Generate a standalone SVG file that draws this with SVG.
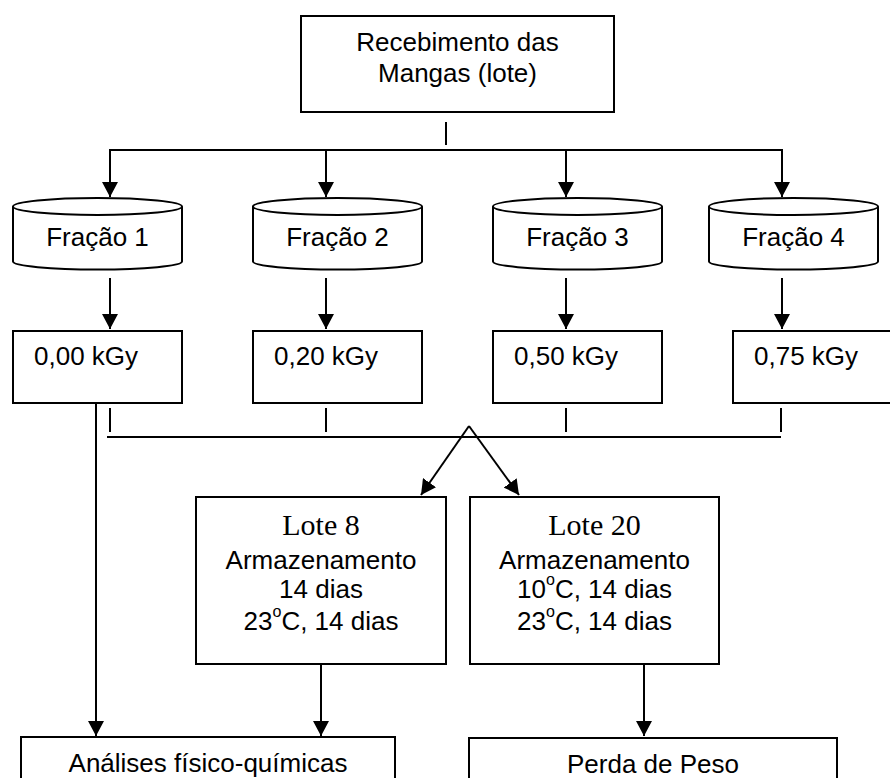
<svg xmlns="http://www.w3.org/2000/svg" width="890" height="778" viewBox="0 0 890 778">
<style>
.box{fill:#fff;stroke:#000;stroke-width:2}
.ln{fill:none;stroke:#000;stroke-width:2}
.t{font-family:"Liberation Sans",Arial,sans-serif;font-size:26px;fill:#000}
.c{text-anchor:middle}
.s{font-family:"Liberation Serif","Times New Roman",serif;font-size:30px;fill:#000;text-anchor:middle}
</style>
<defs>
<marker id="ah" viewBox="0 0 15 16" refX="15" refY="8" markerWidth="15" markerHeight="16" markerUnits="userSpaceOnUse" orient="auto">
<path d="M0,0 L15,8 L0,16 Z" fill="#000"/>
</marker>
</defs>
<rect width="890" height="778" fill="#fff"/>
<g id="connectors">
<line class="ln" x1="446" y1="122" x2="446" y2="145"/>
<polyline class="ln" points="110,197 110,150 782,150 782,197" marker-end="url(#ah)"/>
<line class="ln" x1="110" y1="150" x2="110" y2="197" marker-end="url(#ah)"/>
<line class="ln" x1="326" y1="150" x2="326" y2="197" marker-end="url(#ah)"/>
<line class="ln" x1="566" y1="150" x2="566" y2="197" marker-end="url(#ah)"/>
<line class="ln" x1="110" y1="278" x2="110" y2="329" marker-end="url(#ah)"/>
<line class="ln" x1="326" y1="278" x2="326" y2="329" marker-end="url(#ah)"/>
<line class="ln" x1="566" y1="278" x2="566" y2="329" marker-end="url(#ah)"/>
<line class="ln" x1="782" y1="278" x2="782" y2="329" marker-end="url(#ah)"/>
<line class="ln" x1="110" y1="408" x2="110" y2="432"/>
<line class="ln" x1="326" y1="408" x2="326" y2="432"/>
<line class="ln" x1="566" y1="408" x2="566" y2="432"/>
<line class="ln" x1="781" y1="408" x2="781" y2="432"/>
<line class="ln" x1="107" y1="437" x2="781" y2="437"/>
<line class="ln" x1="469" y1="426" x2="421" y2="495" marker-end="url(#ah)"/>
<line class="ln" x1="469" y1="426" x2="519" y2="495" marker-end="url(#ah)"/>
<line class="ln" x1="96" y1="399" x2="96" y2="736" marker-end="url(#ah)"/>
<line class="ln" x1="321" y1="664" x2="321" y2="736" marker-end="url(#ah)"/>
<line class="ln" x1="644" y1="664" x2="644" y2="736" marker-end="url(#ah)"/>
</g>
<g id="recebimento">
<rect class="box" x="301" y="16" width="313" height="96"/>
<text class="t c" x="457.5" y="51">Recebimento das</text>
<text class="t c" x="457.5" y="82">Mangas (lote)</text>
</g>
<g id="fracao1">
<path class="box" d="M13,206.5 L13,261.5 A84.5,8 0 0 0 182,261.5 L182,206.5 A84.5,8.5 0 0 0 13,206.5 A84.5,8.5 0 0 0 182,206.5"/>
<text class="t c" x="97.5" y="246">Fração 1</text>
</g>
<g id="fracao2">
<path class="box" d="M253,206.5 L253,261.5 A84.5,8 0 0 0 422,261.5 L422,206.5 A84.5,8.5 0 0 0 253,206.5 A84.5,8.5 0 0 0 422,206.5"/>
<text class="t c" x="337.5" y="246">Fração 2</text>
</g>
<g id="fracao3">
<path class="box" d="M493,206.5 L493,261.5 A84.5,8 0 0 0 662,261.5 L662,206.5 A84.5,8.5 0 0 0 493,206.5 A84.5,8.5 0 0 0 662,206.5"/>
<text class="t c" x="577.5" y="246">Fração 3</text>
</g>
<g id="fracao4">
<path class="box" d="M709,206.5 L709,261.5 A84.5,8 0 0 0 878,261.5 L878,206.5 A84.5,8.5 0 0 0 709,206.5 A84.5,8.5 0 0 0 878,206.5"/>
<text class="t c" x="793.5" y="246">Fração 4</text>
</g>
<g id="dose1">
<rect class="box" x="13" y="331" width="169" height="72"/>
<text class="t" x="34" y="365">0,00 kGy</text>
</g>
<g id="dose2">
<rect class="box" x="253" y="331" width="169" height="72"/>
<text class="t" x="274" y="365">0,20 kGy</text>
</g>
<g id="dose3">
<rect class="box" x="493" y="331" width="169" height="72"/>
<text class="t" x="514" y="365">0,50 kGy</text>
</g>
<g id="dose4">
<rect class="box" x="733" y="331" width="169" height="72"/>
<text class="t" x="754" y="365">0,75 kGy</text>
</g>
<g id="lote8">
<rect class="box" x="196" y="497" width="250" height="167"/>
<text class="s" x="321" y="535">Lote 8</text>
<text class="t c" x="321" y="569">Armazenamento</text>
<text class="t c" x="321" y="598">14 dias</text>
<text class="t c" x="321" y="630">23<tspan font-size="16" dy="-13">o</tspan><tspan dy="13">C, 14 dias</tspan></text>
</g>
<g id="lote20">
<rect class="box" x="470" y="497" width="249" height="167"/>
<text class="s" x="594.5" y="535">Lote 20</text>
<text class="t c" x="594.5" y="569">Armazenamento</text>
<text class="t c" x="594.5" y="598">10<tspan font-size="16" dy="-13">o</tspan><tspan dy="13">C, 14 dias</tspan></text>
<text class="t c" x="594.5" y="630">23<tspan font-size="16" dy="-13">o</tspan><tspan dy="13">C, 14 dias</tspan></text>
</g>
<g id="analises">
<rect class="box" x="21" y="737" width="374" height="60"/>
<text class="t c" x="208" y="772">Análises físico-químicas</text>
</g>
<g id="perda">
<rect class="box" x="469" y="738" width="368" height="60"/>
<text class="t c" x="653" y="773">Perda de Peso</text>
</g>
</svg>
